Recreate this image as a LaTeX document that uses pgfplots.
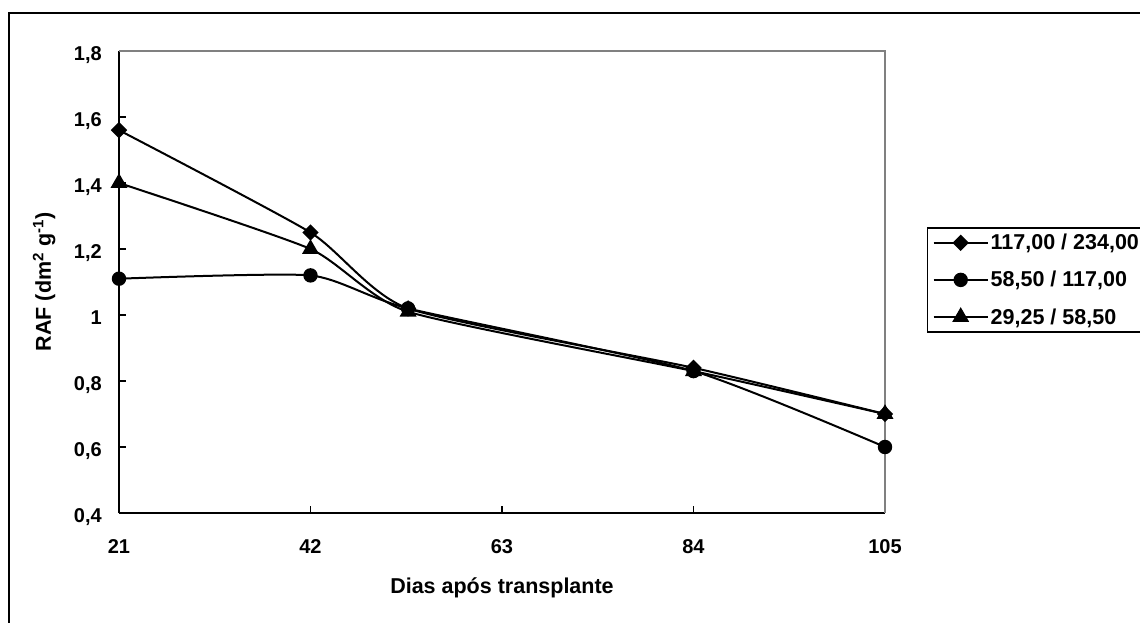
\documentclass[border=0pt]{standalone}
\usepackage{fontspec}
\setmainfont{Liberation Sans}
\usepackage{pgfplots}
\pgfplotsset{compat=1.18}
\begin{document}
\begin{tikzpicture}[x=1pt,y=1pt]
\useasboundingbox (0,0) rectangle (1140,622);
\draw[black, line width=2pt] (9,-50) -- (9,609) -- (1200,609);
\begin{axis}[
  at={(119pt,109pt)}, anchor=south west,
  scale only axis, width=766pt, height=462pt,
  xmin=21, xmax=105, ymin=0.4, ymax=1.8,
  xtick={21,42,63,84,105}, ytick={0.4,0.6,...,1.81},
  axis line style={line width=1.8pt},
  axis x line*=bottom, axis y line*=left,
  tick align=inside, major tick length=7pt,
  tick style={black, line width=1.5pt},
  xtick pos=left, ytick pos=left,
  /pgf/number format/.cd, use comma, fixed, precision=1, assume math mode=true,
  /pgfplots/.cd,
  ticklabel style={font=\fontsize{20}{22}\selectfont\bfseries, inner sep=0pt},
  xticklabel style={anchor=base, yshift=-40pt},
  yticklabel style={anchor=base east, xshift=-17pt, yshift=-9.5pt},
  xlabel={Dias após transplante},
  ylabel={RAF (dm\textsuperscript{2} g\textsuperscript{-1})},
  label style={font=\fontsize{21.5}{24}\selectfont\bfseries, inner sep=0pt},
  xlabel style={at={(axis description cs:0.5,-0.1753)}, anchor=base},
  ylabel style={at={(axis description cs:-0.0888,0.5)}, anchor=base},
  legend style={at={(axis description cs:1.0548,0.619)}, anchor=north west,
    draw=black, line width=1.5pt, font=\fontsize{21.5}{24}\selectfont\bfseries,
    inner xsep=5pt, inner ysep=4.5pt, row sep=16pt,
    cells={anchor=west}, legend cell align=left},
  legend image code/.code={\draw[mark repeat=2,mark phase=2,line width=2pt,#1] plot coordinates {(0pt,0pt) (27pt,0pt) (54pt,0pt)};},
  every axis plot/.append style={black, line width=2pt, smooth, tension=0.35},
  clip=false,
]
\addplot[mark=square*, mark size=4.8pt, mark options={rotate=45, solid, fill=black}]
  coordinates {(21,1.56) (42,1.25) (52.7,1.02) (84,0.84) (105,0.70)};
\addlegendentry{117,00 / 234,00\hspace*{12pt}}
\addplot[mark=*, mark size=6.2pt, mark options={solid, fill=black}]
  coordinates {(21,1.11) (42,1.12) (52.7,1.02) (84,0.83) (105,0.60)};
\addlegendentry{58,50 / 117,00}
\addplot[mark=triangle*, mark size=7.8pt, mark options={solid, fill=black}]
  coordinates {(21,1.40) (42,1.20) (52.7,1.01) (84,0.83) (105,0.70)};
\addlegendentry{29,25 / 58,50}
\draw[color={rgb,255:red,128;green,128;blue,128}, line width=1.8pt]
  (rel axis cs:0,1) -- (rel axis cs:1,1) -- (rel axis cs:1,0);
\end{axis}
\end{tikzpicture}
\end{document}
